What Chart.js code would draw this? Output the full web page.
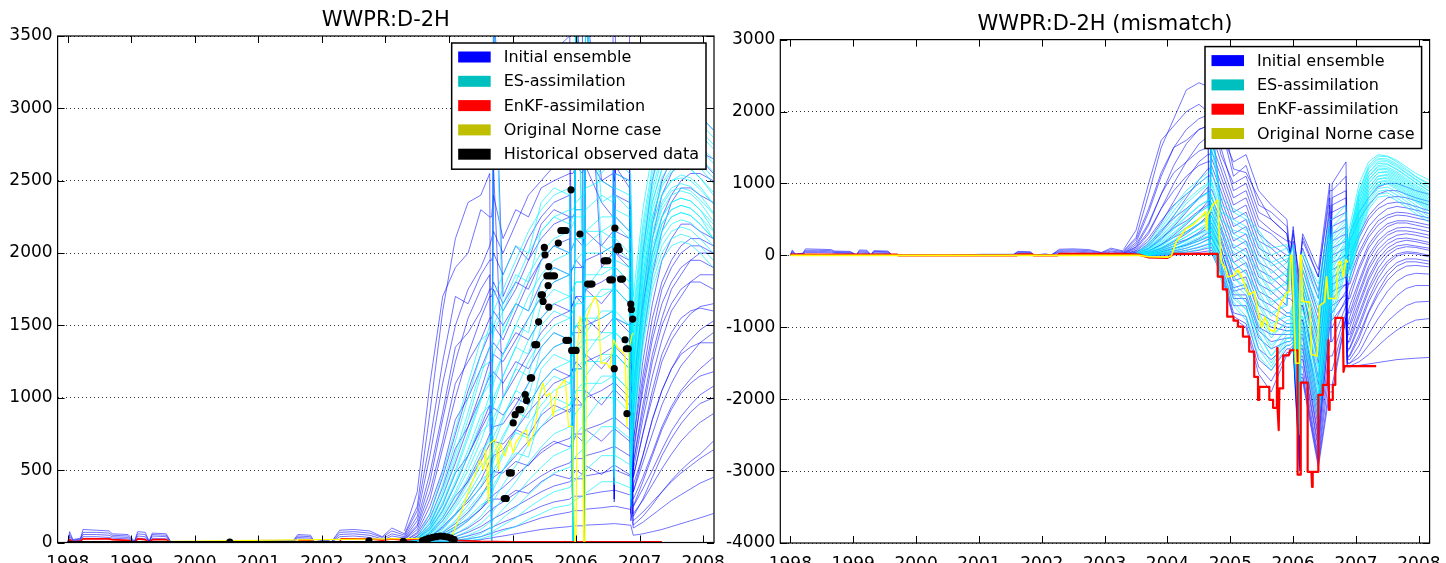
<!DOCTYPE html>
<html lang="en">
<head>
<meta charset="UTF-8">
<title>WWPR:D-2H</title>
<script src="https://cdn.jsdelivr.net/npm/chart.js@4"></script>
<style>
  body { margin: 0; background: #fff; width: 1446px; height: 563px; overflow: hidden; position: relative; }
  .panel { position: absolute; top: 0; height: 563px; }
  #left { left: 0; width: 740px; }
  #right { left: 720px; width: 726px; }
</style>
</head>
<body>
<div class="panel" id="left"><canvas id="rateChart"></canvas></div>
<div class="panel" id="right"><canvas id="misChart"></canvas></div>
<script>
// ---- time axes (decimal years) ----
const earlyYears = [1998.00, 1998.03, 1998.08, 1998.20, 1998.24, 1998.45, 1998.65, 1998.70, 1998.95, 1999.05,
                    1999.10, 1999.22, 1999.28, 1999.33, 1999.55, 1999.62, 2000.50, 2001.05, 2001.55, 2001.62,
                    2001.82, 2001.88, 2002.06, 2002.15, 2002.28, 2002.50, 2002.75, 2002.95, 2003.10, 2003.30];

const ensYears = [2003.30, 2003.50, 2003.70, 2003.90, 2004.10, 2004.30, 2004.50, 2004.64, 2004.67, 2004.70,
                  2004.85, 2005.05, 2005.25, 2005.45, 2005.65, 2005.90, 2005.95, 2006.00, 2006.10, 2006.12,
                  2006.15, 2006.40, 2006.58, 2006.60, 2006.62, 2006.84, 2006.86, 2006.90, 2007.05, 2007.20,
                  2007.35, 2007.50, 2007.65, 2007.80, 2007.95, 2008.16];

// ---- early period, initial ensemble (same rate and mismatch, observed = 0) ----
const earlyInitial = [
  [0, 75, 20, 30, 90, 85, 80, 60, 55, 10, 75, 70, 10, 65, 60, 5, 0, 15, 15, 55, 50, 5, 20, 5, 85, 90, 80, 40, 100, 60],
  [0, 55, 15, 25, 70, 70, 65, 50, 45, 5, 60, 55, 5, 55, 50, 5, 0, 10, 10, 45, 40, 5, 15, 5, 70, 75, 65, 35, 80, 50],
  [0, 40, 10, 20, 55, 55, 50, 40, 35, 5, 45, 40, 5, 45, 40, 0, 0, 8, 8, 35, 30, 0, 10, 0, 55, 60, 50, 25, 60, 40],
  [0, 25, 5, 15, 40, 40, 35, 30, 25, 0, 30, 25, 0, 30, 25, 0, 0, 5, 5, 25, 20, 0, 5, 0, 40, 45, 35, 15, 45, 30]
];

// ---- WWPR, initial ensemble ----
const initRate = [
  [60,250,900,1600,2100,2350,2400,2550,0,3700, 2700,2900,3100,3300,3400,3500,0,3700,3600,0, 3700,3650,3600,1500,3600,3500,900,1200,2000,2500, 2800,2950,3000,3000,2950,2850],
  [40,180,600,1100,1500,1750,1900,2050,2100,2150, 2000,2200,2400,2500,2600,2650,0,3700,3000,0, 3700,2900,2800,400,2700,2600,300,900,1600,2100, 2400,2550,2650,2700,2700,2650],
  [30,120,420,850,1250,1550,1750,1850,0,3700, 1700,1900,2100,2250,2350,2400,0,3700,2900,2850, 2800,2700,2600,2600,2550,2500,500,800,1400,1850, 2150,2350,2450,2450,2400,2350],
  [20,90,300,650,1000,1300,1550,1700,1700,1750, 1600,1750,1950,2100,2200,2250,2250,2300,2300,0, 3700,2500,2450,300,2400,2350,2300,700,1250,1650, 1950,2100,2200,2200,2150,2100],
  [10,60,200,450,750,1050,1300,1450,1450,1500, 1400,1600,1800,1950,2050,2100,0,3700,2600,2600, 2600,2350,2250,2250,2250,2150,250,600,1100,1450, 1750,1900,2000,2050,2050,2000],
  [5,40,130,320,550,800,1050,1250,1250,1300, 1250,1400,1550,1700,1800,1850,1900,1900,1900,1900, 1950,2000,2050,1800,2000,1950,400,550,950,1300, 1550,1750,1850,1950,2000,2000],
  [0,30,90,220,400,600,800,950,0,2600, 1000,1150,1300,1450,1550,1600,1650,1700,1700,1700, 1750,1800,1850,1850,1850,1750,1750,500,850,1150, 1400,1600,1700,1800,1850,1850],
  [0,20,60,150,280,430,600,750,750,800, 820,950,1100,1250,1350,1400,1450,1450,1450,1450, 1500,1550,1600,300,1550,1500,1500,450,750,1000, 1250,1400,1500,1580,1630,1650],
  [0,10,40,100,190,300,430,560,560,600, 640,780,900,1000,1100,1150,1200,1200,1200,1200, 1250,1300,1350,1350,1350,1250,200,400,600,850, 1050,1200,1320,1400,1470,1530],
  [0,5,25,70,130,210,320,420,420,450, 500,600,700,800,870,920,950,950,950,950, 1000,1050,1100,1100,1100,1000,1000,350,550,750, 950,1100,1220,1300,1380,1450],
  [0,0,15,45,90,150,230,310,310,330, 380,460,540,620,680,720,750,750,750,750, 780,820,860,860,860,780,780,300,450,620, 800,940,1050,1130,1200,1280],
  [0,0,10,30,60,100,160,220,220,240, 280,340,400,460,510,550,580,580,580,580, 600,630,660,660,660,600,600,250,370,500, 640,770,870,950,1020,1080],
  [0,0,5,20,40,70,110,150,150,165, 200,250,300,350,390,420,440,440,440,440, 460,480,500,500,500,460,460,200,290,400, 510,610,700,770,830,890],
  [0,0,0,10,25,45,70,100,100,110, 140,175,210,250,280,300,320,320,320,320, 330,350,360,360,360,330,330,150,210,280, 350,420,480,530,580,640],
  [0,0,0,5,15,25,40,60,60,70, 90,110,140,170,190,210,220,220,220,220, 230,240,250,250,250,230,230,100,140,190, 240,290,330,370,410,450],
  [0,0,0,0,5,10,20,30,30,35, 45,60,75,90,100,110,115,115,115,115, 120,125,130,130,130,120,120,50,60,75, 90,110,130,150,170,200],
  [80,350,1100,1700,1900,2000,2300,2250,2250,2400, 2100,2300,2250,2450,2500,2550,2550,2600,2550,2600, 2650,2600,2700,2650,2700,2650,600,1000,1700,2200, 2500,2650,2700,2700,2650,2550],
  [50,220,700,1250,1700,1650,1850,1950,1950,2000, 1850,2050,1950,2200,2300,2250,0,3700,2700,2650, 2700,2500,2550,2500,2600,2450,800,1100,1650,2000, 2250,2400,2500,2550,2550,2500],
  [30,150,480,900,1350,1450,1600,1750,1750,1800, 1650,1800,1750,1950,2050,2000,2050,2100,2050,2100, 2150,2050,2150,350,2150,2100,400,700,1150,1550, 1800,1950,2050,2100,2100,2050],
  [20,110,350,700,1100,1250,1400,1550,1550,1600, 1500,1650,1600,1800,1900,1850,1900,1950,1900,0, 3700,1900,2000,1950,2000,1900,350,650,1050,1400, 1650,1800,1900,1950,1950,1900],
  [10,70,250,500,850,1000,1200,1350,1350,1380, 1300,1450,1400,1550,1650,1600,1650,1700,1650,1700, 1750,1650,1750,1750,1750,1650,300,550,900,1250, 1500,1650,1750,1800,1800,1750],
  [5,45,170,380,650,800,1000,1150,1150,1180, 1100,1250,1200,1350,1450,1400,1450,1500,1450,1500, 1550,1450,1550,1550,1550,1450,1450,450,750,1050, 1300,1450,1550,1600,1620,1600],
  [0,25,110,260,480,600,780,900,900,930, 880,1000,950,1100,1200,1150,1200,1250,1200,1250, 1300,1200,1300,280,1300,1200,1200,350,600,850, 1050,1200,1300,1350,1380,1380],
  [0,15,70,170,320,420,560,680,680,700, 680,780,740,880,950,900,950,1000,950,1000, 1050,950,1050,1050,1050,950,150,250,420,600, 780,920,1030,1100,1150,1180],
  [0,10,40,110,200,280,380,470,470,490, 480,560,530,640,700,660,700,740,700,740, 780,700,780,780,780,700,700,180,300,450, 600,720,820,900,960,1000],
  [0,0,20,60,110,160,230,290,290,300, 300,360,340,420,470,440,470,500,470,500, 530,470,530,530,530,470,470,120,180,260, 350,430,500,560,610,700]
];

// ---- WWPR, ES-assimilation ----
const esRate = [
  [0,20,150,400,700,1000,1300,1500,1500,1600, 1750,1950,2150,2300,2400,2450,0,3700,2600,0, 3700,2600,2600,800,2550,2500,600,1600,2200,2600, 2850,2950,3000,2980,2900,2800],
  [0,15,110,320,580,850,1150,1350,1350,1450, 1600,1800,2000,2150,2250,2300,2300,2350,2400,2400, 2450,2500,2450,2450,2450,2400,2400,1500,2100,2500, 2750,2880,2920,2900,2850,2750],
  [0,10,90,260,480,720,980,1180,0,3700, 1450,1650,1850,2000,2100,2150,2200,2250,2250,2250, 2300,2400,2350,700,2300,2250,2250,1400,2000,2400, 2650,2780,2820,2800,2740,2650],
  [0,5,70,210,400,600,830,1020,1020,1100, 1300,1500,1700,1850,1950,2000,0,3700,2100,2100, 2150,2250,2250,2250,2250,2150,400,1350,1950,2350, 2580,2700,2740,2720,2660,2560],
  [0,5,55,170,330,500,700,870,870,950, 1150,1350,1550,1700,1800,1850,1900,1950,2000,2000, 2050,2150,2100,2100,2100,2000,2000,1300,1900,2300, 2520,2630,2670,2650,2590,2480],
  [0,0,40,130,260,410,580,730,730,800, 1000,1200,1400,1550,1650,1700,1750,1800,1800,0, 3700,2050,2000,500,1950,1900,1900,1250,1850,2250, 2460,2560,2600,2580,2520,2400],
  [0,0,30,100,200,330,480,610,610,670, 850,1050,1250,1400,1500,1550,1600,1650,1700,1700, 1750,1900,1900,1900,1900,1800,300,1200,1800,2200, 2400,2500,2540,2520,2460,2340],
  [0,0,20,75,150,260,390,500,500,560, 720,900,1100,1250,1350,1400,1450,1500,1550,1550, 1600,1750,1750,1750,1750,1650,1650,1150,1750,2150, 2350,2450,2480,2460,2400,2280],
  [0,0,15,55,110,200,310,410,410,460, 600,770,950,1100,1200,1250,1300,1350,1400,1400, 1450,1600,1600,400,1550,1500,1500,1100,1700,2100, 2300,2400,2430,2410,2350,2220],
  [0,0,10,40,80,150,240,330,330,370, 500,650,820,950,1050,1100,1150,1200,1250,1250, 1300,1450,1450,1450,1450,1350,1350,1050,1650,2050, 2250,2350,2380,2360,2300,2160],
  [0,0,5,30,60,110,180,260,260,290, 400,530,680,800,900,950,1000,1050,1100,1100, 1150,1300,1300,1300,1300,1200,1200,1000,1600,2000, 2200,2300,2330,2310,2250,2100],
  [0,0,0,20,40,80,130,190,190,220, 310,420,550,660,750,800,850,900,950,950, 1000,1150,1150,1150,1150,1050,1050,950,1550,1950, 2150,2250,2280,2260,2200,2100],
  [0,0,0,10,25,50,90,140,140,160, 230,320,430,520,600,650,700,750,800,800, 850,1000,1000,1000,1000,900,900,900,1500,1900, 2100,2200,2230,2210,2150,2050],
  [0,0,0,5,15,30,60,100,100,110, 170,240,330,410,480,520,560,600,640,640, 680,800,800,800,800,720,720,850,1450,1850, 2050,2150,2180,2160,2100,2000],
  [0,0,0,0,10,20,40,70,70,80, 120,170,240,300,350,380,410,440,470,470, 500,600,600,600,600,540,540,800,1400,1800, 2000,2100,2130,2110,2050,1950],
  [0,0,0,0,5,10,25,45,45,50, 80,110,160,200,240,260,280,300,320,320, 340,420,420,420,420,380,380,750,1350,1750, 1950,2050,2080,2060,2000,1900],
  [0,30,200,480,780,1100,1400,1450,1450,1700, 1850,2050,2000,2350,2450,2400,0,3700,2650,2600, 2650,2550,2650,2600,2650,2550,2550,1700,2300,2700, 2900,3000,3050,3000,2950,2850],
  [0,20,130,350,620,900,1200,1250,1250,1500, 1650,1850,1800,2150,2250,2200,2250,2300,2300,0, 3700,2350,2400,2350,2400,2300,2300,1550,2150,2550, 2780,2880,2900,2880,2820,2720],
  [0,10,100,280,500,750,1000,1100,1100,1300, 1450,1650,1600,1950,2050,2000,2050,2100,2100,2100, 2150,2150,2200,600,2200,2100,2100,1450,2050,2450, 2680,2780,2800,2780,2720,2620],
  [0,5,80,230,420,640,880,950,950,1150, 1300,1500,1450,1800,1900,1850,0,3700,1950,1950, 2000,2000,2050,2050,2050,1950,300,1350,1950,2350, 2580,2680,2700,2680,2620,2520],
  [0,5,60,190,350,540,760,820,820,1000, 1150,1350,1300,1650,1750,1700,1750,1800,1800,1800, 1850,1850,1900,1900,1900,1800,1800,1250,1850,2250, 2480,2580,2600,2580,2520,2420],
  [0,0,45,150,290,450,640,700,700,860, 1000,1200,1150,1500,1600,1550,1600,1650,1650,1650, 1700,1700,1750,450,1750,1650,1650,1200,1800,2200, 2400,2500,2520,2500,2440,2340],
  [0,0,35,120,240,370,530,590,590,730, 870,1050,1000,1350,1450,1400,1450,1500,1500,1500, 1550,1550,1600,1600,1600,1500,1500,1100,1700,2100, 2330,2430,2450,2430,2370,2270],
  [0,0,25,90,190,300,430,480,480,610, 740,900,860,1200,1300,1250,1300,1350,1350,1350, 1400,1400,1450,1450,1450,1350,250,1000,1600,2000, 2250,2350,2380,2360,2300,2200],
  [0,0,15,65,140,230,340,380,380,500, 620,760,720,1050,1150,1100,1150,1200,1200,1200, 1250,1250,1300,1300,1300,1200,1200,950,1550,1950, 2200,2300,2330,2310,2250,2150],
  [0,0,10,45,100,170,260,290,290,400, 500,620,590,900,1000,950,1000,1050,1050,1050, 1100,1100,1150,1150,1150,1050,1050,900,1500,1900, 2150,2250,2280,2260,2200,2100]
];

// ---- WWPR, EnKF-assimilation [year, rate] ----
const enkfRate = [[1998.00,0],[1998.03,20],[1998.08,5],[1998.20,10],[1998.24,25],[1998.65,25],[1998.70,20],[1998.95,15],
  [1999.05,0],[1999.10,25],[1999.22,20],[1999.28,0],[1999.33,20],[1999.55,20],[1999.62,0],[2001.62,0],[2001.64,15],
  [2001.82,15],[2001.88,0],[2002.28,0],[2002.30,25],[2002.75,25],[2002.95,15],[2003.10,25],[2003.30,15],[2003.60,30],
  [2003.90,40],[2004.10,15],[2004.50,8],[2005.00,5],[2006.00,5],[2007.35,5]];

// ---- WWPR, original Norne case [year, rate] ----
const origRate = [[1998.00,0],[2004.04,30],[2004.28,320],[2004.36,413],[2004.44,504],[2004.49,573],[2004.54,504],
  [2004.58,642],[2004.62,274],[2004.65,688],[2004.73,711],[2004.78,504],[2004.80,688],[2004.88,596],[2004.96,711],
  [2005.01,619],[2005.05,688],[2005.15,757],[2005.22,780],[2005.25,665],[2005.33,757],[2005.38,872],[2005.43,1033],
  [2005.48,1102],[2005.53,1010],[2005.59,1033],[2005.64,872],[2005.70,1056],[2005.78,1102],[2005.83,1125],
  [2005.88,803],[2005.94,803],[2005.98,0],[2006.00,0],[2006.02,1332],[2006.06,1562],[2006.09,1516],[2006.12,0],
  [2006.14,0],[2006.17,1562],[2006.25,1655],[2006.30,1700],[2006.35,1631],[2006.39,1240],[2006.48,1240],
  [2006.53,1205],[2006.59,1401],[2006.64,1355],[2006.72,1320],[2006.77,1297],[2006.80,803],[2006.83,1332],
  [2006.88,1436],[2006.90,1447]];

// ---- historical observed WWPR [year, rate] ----
const obsRate = [[2000.55,3],[2002.74,12],[2003.28,8],[2003.58,12],[2003.63,20],[2003.68,28],[2003.74,35],[2003.80,40],
  [2003.86,45],[2003.92,42],[2003.98,38],[2004.03,30],[2004.08,20],
  [2004.87,304],[2004.90,304],[2004.95,481],[2004.98,481],[2005.01,826],[2005.04,883],[2005.10,918],[2005.13,918],
  [2005.20,1022],[2005.22,982],[2005.28,1137],[2005.30,1137],[2005.35,1367],[2005.38,1367],[2005.41,1525],
  [2005.45,1712],[2005.47,1712],[2005.48,1666],[2005.50,2039],[2005.51,1988],[2005.54,1843],[2005.58,1843],
  [2005.62,1843],[2005.66,1843],[2005.56,1776],[2005.57,1627],[2005.57,1907],[2005.72,2069],[2005.76,2156],
  [2005.80,2156],[2005.84,2156],[2005.84,1397],[2005.88,1397],[2005.92,2437],[2005.93,1327],[2005.97,1327],
  [2006.00,1327],[2006.06,2131],[2006.18,1786],[2006.22,1786],[2006.25,1786],[2006.44,1947],[2006.47,1947],
  [2006.50,1947],[2006.53,1815],[2006.57,1815],[2006.60,1201],[2006.61,2172],[2006.64,2023],[2006.66,2046],
  [2006.68,2023],[2006.70,1820],[2006.73,1820],[2006.77,1401],[2006.79,1339],[2006.82,1339],[2006.80,890],
  [2006.86,1648],[2006.87,1610],[2006.89,1544]];
// observed zero rate through the early years
const obsZero = [[1998.00,0],[2003.50,0]];

// ---- mismatch, initial ensemble ----
const initMis = [
  [60,250,850,1500,1900,2300,2400,2350,0,2200, 2000,1200,1150,800,500,300, 0,400,-500,0, 300,-200,1000,0,1000,1300, 0,300,600,800, 950,1000,1000,950,900,850],
  [40,180,600,1100,1500,1750,1900,1950,1950,2000, 1700,1300,1400,900,700,500, 0,300,-300,0, 200,-300,800,200,800,900, 0,0,300,550, 700,800,820,800,760,700],
  [30,120,420,850,1250,1550,1750,1800,0,2000, 1400,1000,1100,600,500,300, 0,200,-600,0, 100,-500,600,600,600,700, 0,-200,150,400, 550,650,680,660,630,580],
  [20,90,300,650,1000,1300,1550,1650,1650,1700, 1300,800,900,400,300,100, 0,0,-900,0, -100,-800,400,-300,400,500, -400,-400,0,250, 420,520,560,550,520,480],
  [10,60,200,450,750,1050,1300,1400,1400,1450, 1100,600,700,200,100,-100, 0,-200,-1200,0, -300,-1100,200,200,200,300, -600,-600,-200,100, 280,400,450,450,420,380],
  [5,40,130,320,550,800,1050,1200,1200,1250, 900,400,500,0,-100,-300, 0,-400,-1500,0, -500,-1400,0,-400,0,100, -800,-800,-400,-50, 150,280,340,340,320,280],
  [0,30,90,220,400,600,800,950,0,1900, 700,200,300,-200,-300,-500, 0,-600,-1800,-700, -700,-1700,-200,-200,-200,-100, -950,-950,-550,-200, 20,160,230,240,220,180],
  [0,20,60,150,280,430,600,750,750,800, 500,0,100,-400,-500,-700, 0,-800,-2100,-900, -900,-2000,-400,-1200,-400,-300, -1100,-1100,-700,-350, -100,50,130,150,130,100],
  [0,10,40,100,190,300,430,560,560,600, 350,-200,-100,-600,-700,-850, -850,-900,-2300,-1000, -1000,-2200,-600,-600,-600,-400, -1200,-1200,-850,-500, -250,-80,20,50,40,0],
  [0,5,25,70,130,210,320,420,420,450, 200,-350,-300,-800,-900,-1000, -1000,-1000,-2500,-1150, -1150,-2400,-800,-800,-800,-500, -1300,-1300,-1000,-650, -400,-220,-100,-50,-50,-80],
  [0,0,15,45,90,150,230,310,310,330, 100,-500,-450,-1000,-1100,-1100, -1100,-1100,-2650,-1300, -1300,-2550,-1000,-1000,-1000,-600, -1400,-1400,-1150,-800, -550,-350,-220,-150,-140,-160],
  [0,0,10,30,60,100,160,220,220,240, 0,-600,-600,-1150,-1300,-1200, -1200,-1150,-2750,-1450, -1450,-2700,-1200,-1200,-1200,-700, -1450,-1450,-1250,-950, -700,-500,-360,-280,-250,-260],
  [0,0,5,20,40,70,110,150,150,165, -100,-700,-700,-1300,-1450,-1250, -1250,-1200,-2850,-1550, -1550,-2800,-1400,-1400,-1400,-800, -1500,-1500,-1350,-1100, -880,-700,-560,-460,-420,-420],
  [0,0,0,10,25,45,70,100,100,110, -150,-800,-850,-1450,-1600,-1300, -1300,-1250,-2900,-1650, -1650,-2850,-1600,-1600,-1600,-850, -1500,-1500,-1420,-1250, -1080,-920,-800,-700,-650,-640],
  [0,0,0,5,15,25,40,60,60,70, -200,-850,-950,-1550,-1750,-1350, -1350,-1280,-2950,-1700, -1700,-2900,-1800,-1800,-1800,-870, -1540,-1540,-1480,-1380, -1260,-1140,-1040,-960,-900,-880],
  [0,0,0,0,5,10,20,30,30,35, -250,-880,-1000,-1650,-1900,-1380, -1380,-1300,-3000,-1750, -1750,-2950,-1900,-1900,-1900,-870, -1550,-1550,-1530,-1510, -1490,-1470,-1450,-1440,-1430,-1420],
  [80,350,1000,1600,1800,2000,2100,2000,2000,2150, 1800,1100,1250,700,600,400, 0,350,-400,0, 250,-300,900,900,900,1100, -200,200,500,700, 850,900,900,850,800,750],
  [50,220,650,1150,1500,1600,1750,1800,1800,1850, 1500,900,1000,500,350,200, 200,100,-700,0, 0,-600,700,-100,700,800, -300,-100,250,500, 650,720,740,720,680,620],
  [30,150,450,850,1150,1300,1450,1500,1500,1550, 1200,700,800,300,150,0, 0,-100,-1000,-200, -200,-900,500,500,500,600, -500,-300,50,300, 480,560,600,590,560,520],
  [20,110,330,650,900,1100,1250,1300,1300,1350, 1000,500,600,100,0,-200, -200,-300,-1300,0, -400,-1200,300,-600,300,400, -700,-500,-150,150, 330,440,480,480,460,420],
  [10,70,240,480,700,850,1000,1100,1100,1150, 800,300,400,-100,-200,-400, 0,-500,-1600,-500, -500,-1500,100,100,100,200, -850,-700,-350,0, 200,320,380,390,370,330],
  [5,45,160,350,520,650,800,880,880,920, 600,100,200,-300,-400,-600, -600,-650,-1900,-700, -700,-1800,-100,-100,-100,0, -1000,-850,-500,-150, 80,210,280,300,280,240],
  [0,25,100,240,380,480,620,700,700,730, 400,-100,0,-500,-600,-800, -800,-850,-2200,-900, -900,-2100,-300,-900,-300,-200, -1150,-1000,-650,-300, -50,100,180,210,190,150],
  [0,15,60,150,250,330,440,520,520,540, 250,-300,-200,-700,-800,-950, -950,-950,-2400,-1100, -1100,-2300,-500,-500,-500,-400, -1250,-1150,-800,-450, -180,0,90,120,110,70],
  [0,10,35,90,160,220,300,370,370,390, 100,-450,-400,-900,-1000,-1050, -1050,-1050,-2600,-1250, -1250,-2500,-700,-700,-700,-550, -1350,-1280,-950,-600, -320,-120,-10,30,20,-20],
  [0,0,20,50,100,140,200,250,250,265, 0,-550,-550,-1050,-1200,-1150, -1150,-1150,-2700,-1400, -1400,-2650,-900,-900,-900,-650, -1450,-1380,-1100,-780, -500,-280,-150,-90,-90,-120]
];

// ---- mismatch, ES-assimilation ----
const esMis = [
  [0,20,150,380,620,850,1000,1100,0,1900, 700,600,500,300,0,100, 0,100,-800,0, 0,-500,400,0,400,600, 0,300,900,1250, 1380,1370,1300,1200,1100,1000],
  [0,15,110,300,500,720,880,980,980,1050, 600,500,400,200,-100,0, 0,0,-900,0, -100,-600,300,-300,300,500, 0,250,850,1200, 1330,1320,1250,1150,1060,950],
  [0,10,90,250,420,620,780,870,0,1800, 500,350,300,50,-250,-100, 0,-100,-1100,0, -200,-800,200,200,200,400, 200,200,800,1150, 1280,1270,1200,1110,1020,900],
  [0,5,70,200,360,530,680,770,770,820, 400,250,150,-100,-400,-200, 0,-250,-1300,-300, -300,-1000,100,-500,100,300, 150,150,750,1100, 1230,1230,1160,1070,980,860],
  [0,5,55,160,300,450,590,680,680,720, 300,100,0,-250,-550,-350, 0,-350,-1450,-400, -400,-1150,0,0,0,250, 100,100,700,1050, 1190,1190,1120,1030,940,820],
  [0,0,40,130,250,380,510,600,600,640, 200,0,-150,-400,-700,-500, -500,-450,-1600,-500, -500,-1300,-100,-600,-100,200, 50,50,650,1000, 1150,1150,1080,990,900,780],
  [0,0,30,100,200,320,440,520,520,560, 100,-100,-250,-550,-850,-650, 0,-550,-1750,-650, -650,-1450,-200,-200,-200,150, 0,0,600,950, 1100,1110,1040,950,860,740],
  [0,0,20,75,160,260,370,450,450,490, 0,-200,-350,-700,-1000,-800, -800,-650,-1900,-750, -750,-1600,-300,-300,-300,100, -50,-50,550,900, 1060,1070,1000,910,820,700],
  [0,0,15,55,120,210,310,380,380,420, -100,-300,-450,-850,-1150,-900, -900,-750,-2000,-850, -850,-1750,-400,-900,-400,50, -100,-100,500,850, 1010,1030,960,870,780,660],
  [0,0,10,40,90,170,250,320,320,360, -150,-400,-550,-1000,-1300,-1000, -1000,-850,-2150,-950, -950,-1900,-500,-500,-500,0, -150,-150,450,800, 970,990,920,830,740,620],
  [0,0,5,30,70,130,200,260,260,300, -200,-500,-650,-1100,-1400,-1100, -1100,-950,-2250,-1050, -1050,-2000,-600,-600,-600,-50, -200,-200,400,760, 930,950,880,790,700,580],
  [0,0,0,20,50,100,160,210,210,240, -250,-600,-750,-1200,-1500,-1150, -1150,-1050,-2350,-1150, -1150,-2100,-700,-700,-700,-100, -250,-250,350,720, 890,910,840,750,660,540],
  [0,0,0,10,30,70,120,160,160,190, -300,-650,-850,-1300,-1550,-1200, -1200,-1150,-2450,-1250, -1250,-2200,-800,-800,-800,-150, -300,-300,300,680, 850,870,800,710,620,500],
  [0,0,0,5,20,45,80,120,120,140, -350,-700,-900,-1400,-1600,-1250, -1250,-1200,-2500,-1350, -1350,-2300,-900,-900,-900,-200, -350,-350,250,640, 810,830,760,670,580,460],
  [0,30,180,420,680,900,1050,1150,1150,1500, 800,650,550,350,100,150, 0,150,-700,0, 50,-400,500,500,500,700, 300,400,1000,1300, 1400,1380,1320,1230,1140,1050],
  [0,20,130,340,560,760,920,1000,1000,1200, 650,450,350,150,-150,-50, 0,-50,-1000,-200, -200,-700,250,-400,250,450, 150,300,900,1220, 1350,1340,1270,1180,1090,980],
  [0,15,100,270,450,640,800,870,870,1000, 500,300,200,-50,-350,-250, -250,-300,-1200,-350, -350,-950,150,150,150,350, 100,200,820,1150, 1300,1300,1230,1140,1050,930],
  [0,10,80,220,380,540,690,760,760,850, 350,150,50,-200,-500,-400, 0,-400,-1400,-450, -450,-1100,50,-700,50,250, 50,100,750,1100, 1250,1260,1190,1100,1010,890],
  [0,5,60,180,320,460,600,670,670,740, 250,50,-100,-350,-650,-550, -550,-500,-1550,-550, -550,-1250,-50,-50,-50,150, 0,50,680,1050, 1200,1210,1140,1050,960,840],
  [0,0,45,140,260,390,510,580,580,640, 150,-100,-250,-500,-800,-700, 0,-600,-1700,-650, -650,-1400,-150,-150,-150,100, -50,0,620,1000, 1150,1170,1100,1010,920,800],
  [0,0,35,110,210,320,430,490,490,540, 50,-200,-400,-650,-950,-850, -850,-700,-1850,-750, -750,-1550,-250,-800,-250,50, -100,-50,560,950, 1100,1130,1060,970,880,760],
  [0,0,25,85,170,260,360,410,410,460, -50,-300,-500,-800,-1100,-950, -950,-800,-2000,-850, -850,-1700,-350,-350,-350,0, -150,-100,500,900, 1060,1090,1020,930,840,720],
  [0,0,15,60,130,200,290,340,340,380, -150,-450,-650,-950,-1250,-1050, -1050,-900,-2150,-950, -950,-1850,-450,-450,-450,-50, -200,-150,440,850, 1020,1050,980,890,800,680],
  [0,0,10,40,90,150,220,270,270,300, -250,-550,-750,-1100,-1400,-1150, -1150,-1000,-2300,-1050, -1050,-2000,-550,-550,-550,-100, -250,-200,380,800, 980,1010,940,850,760,640]
];

// ---- mismatch, EnKF-assimilation [year, mismatch] ----
const enkfMis = [[1998.00,10],[1999.70,10],[1999.72,0],[2001.60,0],[2001.62,15],[2001.85,15],[2001.87,0],[2002.25,0],
  [2002.27,20],[2003.30,20],[2003.55,10],[2003.70,-30],[2004.00,-35],[2004.06,-5],[2004.10,20],[2004.80,20],
  [2004.80,-297],[2004.88,-297],[2004.88,-472],[2004.95,-472],[2004.95,-853],[2005.05,-853],[2005.05,-908],
  [2005.12,-908],[2005.12,-990],[2005.20,-990],[2005.20,-1130],[2005.30,-1130],[2005.30,-1340],[2005.38,-1340],
  [2005.38,-1690],[2005.44,-1690],[2005.44,-2010],[2005.46,-2010],[2005.46,-1830],[2005.62,-1830],[2005.62,-2010],
  [2005.68,-2010],[2005.68,-2120],[2005.74,-2120],[2005.745,-1290],[2005.75,-2120],[2005.77,-2430],[2005.78,-1850],
  [2005.84,-1850],[2005.84,-1390],[2005.93,-1390],[2005.95,-1320],[2006.07,-1320],[2006.07,-3050],[2006.12,-3050],
  [2006.12,-1770],[2006.23,-1770],[2006.23,-3010],[2006.29,-3010],[2006.30,-3220],[2006.31,-3010],[2006.40,-3010],
  [2006.40,-1940],[2006.47,-1940],[2006.47,-1800],[2006.55,-1800],[2006.56,-1180],[2006.57,-2150],[2006.58,-2010],
  [2006.63,-2010],[2006.63,-1800],[2006.67,-1800],[2006.67,-870],[2006.79,-870],[2006.80,-1620],[2006.82,-1540],
  [2007.32,-1540]];

// ---- mismatch, original Norne case [year, mismatch] ----
const origMis = [[1998.00,0],[2003.55,0],[2003.70,-20],[2004.00,-25],[2004.06,-10],[2004.14,190],[2004.30,377],
  [2004.40,420],[2004.46,470],[2004.54,540],[2004.61,609],[2004.62,353],[2004.64,560],[2004.72,701],[2004.80,770],
  [2004.82,330],[2004.86,-100],[2004.92,-180],[2004.96,-300],[2005.05,-280],[2005.12,-200],[2005.18,-300],
  [2005.25,-450],[2005.30,-550],[2005.38,-500],[2005.45,-830],[2005.50,-1000],[2005.55,-860],[2005.62,-1030],
  [2005.70,-1060],[2005.78,-710],[2005.90,-520],[2005.94,-500],[2005.96,0],[2005.98,0],[2006.04,-1500],
  [2006.10,-1500],[2006.11,0],[2006.13,0],[2006.15,-640],[2006.26,-650],[2006.29,-1380],[2006.38,-1400],
  [2006.42,-700],[2006.50,-650],[2006.53,-300],[2006.56,-600],[2006.68,-600],[2006.72,-100],[2006.76,-90],
  [2006.80,-300],[2006.84,-60],[2006.87,-100]];

// ---- colours ----
const BLUE = 'rgba(0,0,255,0.55)';
const CYAN = 'rgba(0,240,255,0.65)';
const RED = '#ff0000';
const YELLOW = '#ffff00';

Chart.defaults.font.family = '"DejaVu Sans", sans-serif';
Chart.defaults.color = '#000';

function gridSets(years, rows, color, order) {
  return rows.map(row => ({
    data: years.map((t, i) => ({ x: t, y: row[i] })),
    borderColor: color, borderWidth: 1, pointRadius: 0,
    borderJoinStyle: 'round', order
  }));
}

function pairSet(pairs, color, width, order) {
  return {
    data: pairs.map(p => ({ x: p[0], y: p[1] })),
    borderColor: color, borderWidth: width, pointRadius: 0,
    borderJoinStyle: 'round', order
  };
}

// spines, inward tick marks and the boxed legend inside the axes
const frameAndLegend = {
  id: 'frameAndLegend',
  afterDatasetsDraw(chart, args, opts) {
    const { ctx, chartArea: a, scales } = chart;
    ctx.save();
    ctx.strokeStyle = '#000';
    ctx.lineWidth = 1.2;
    ctx.strokeRect(a.left, a.top, a.right - a.left, a.bottom - a.top);

    ctx.lineWidth = 1;
    ctx.beginPath();
    scales.x.ticks.forEach(t => {
      const px = Math.round(scales.x.getPixelForValue(t.value)) + 0.5;
      ctx.moveTo(px, a.bottom); ctx.lineTo(px, a.bottom - 7);
      ctx.moveTo(px, a.top); ctx.lineTo(px, a.top + 7);
    });
    scales.y.ticks.forEach(t => {
      const py = Math.round(scales.y.getPixelForValue(t.value)) + 0.5;
      ctx.moveTo(a.left, py); ctx.lineTo(a.left + 7, py);
      ctx.moveTo(a.right, py); ctx.lineTo(a.right - 7, py);
    });
    ctx.stroke();

    const items = opts.items;
    ctx.font = '16px "DejaVu Sans"';
    const textW = Math.max(...items.map(it => ctx.measureText(it.label).width));
    const w = 52 + textW + 7;
    const h = 29 + (items.length - 1) * 24.3;
    const bx = a.right - 8 - w, by = a.top + 7;
    ctx.fillStyle = '#fff';
    ctx.fillRect(bx, by, w, h);
    ctx.lineWidth = 1.5;
    ctx.strokeRect(bx, by, w, h);
    ctx.textBaseline = 'middle';
    items.forEach((it, i) => {
      const cy = by + 14 + i * 24.3;
      ctx.fillStyle = it.color;
      ctx.fillRect(bx + 6.5, cy - 5.5, 32.5, 11);
      ctx.fillStyle = '#000';
      ctx.fillText(it.label, bx + 52, cy + 1);
    });
    ctx.restore();
  }
};

function makeOptions(cfg) {
  return {
    responsive: true,
    maintainAspectRatio: false,
    devicePixelRatio: 1,
    animation: false,
    events: [],
    layout: { padding: { left: 0, right: cfg.padRight, top: 0, bottom: 0 } },
    plugins: {
      legend: { display: false },
      tooltip: { enabled: false },
      title: {
        display: true, text: cfg.title, fullSize: false, color: '#000',
        font: { size: 21, weight: 'normal' },
        padding: { top: cfg.titleTop, bottom: cfg.titleBottom }
      },
      frameAndLegend: { items: cfg.legend }
    },
    scales: {
      x: {
        type: 'linear', min: 1997.84, max: 2008.17,
        grid: { display: false },
        border: { display: false },
        ticks: {
          stepSize: 1, includeBounds: false, autoSkip: false, maxRotation: 0,
          padding: 3, font: { size: 17 }, callback: v => String(v)
        },
        afterFit: s => { s.height = cfg.xHeight; }
      },
      y: {
        min: cfg.yMin, max: cfg.yMax,
        grid: { color: 'rgba(0,0,0,0.8)', lineWidth: 1, drawTicks: false },
        border: { display: false, dash: [1, 3] },
        ticks: { stepSize: cfg.yStep, padding: 5, font: { size: 17 }, callback: v => String(v) },
        afterFit: s => { s.width = cfg.yWidth; }
      }
    }
  };
}

new Chart(document.getElementById('rateChart'), {
  type: 'scatter',
  data: {
    datasets: [
      ...gridSets(earlyYears, earlyInitial, BLUE, 5),
      ...gridSets(ensYears, initRate, BLUE, 5),
      ...gridSets(ensYears, esRate, CYAN, 4),
      pairSet(enkfRate, RED, 1.6, 3),
      pairSet(origRate, YELLOW, 1.2, 2),
      pairSet(obsZero, '#000', 3, 1),
      {
        data: obsRate.map(p => ({ x: p[0], y: p[1] })),
        showLine: false, pointRadius: 3.6, pointBackgroundColor: '#000',
        pointBorderColor: '#000', pointBorderWidth: 0, order: 1
      }
    ].map(d => Object.assign({ showLine: true }, d))
  },
  options: makeOptions({
    title: 'WWPR:D-2H', titleTop: 8, titleBottom: 2.8,
    yMin: 0, yMax: 3500, yStep: 500, yWidth: 57.6, xHeight: 20.5, padRight: 26,
    legend: [
      { label: 'Initial ensemble', color: '#0000ff' },
      { label: 'ES-assimilation', color: '#00bfbf' },
      { label: 'EnKF-assimilation', color: '#ff0000' },
      { label: 'Original Norne case', color: '#bfbf00' },
      { label: 'Historical observed data', color: '#000000' }
    ]
  }),
  plugins: [frameAndLegend]
});

new Chart(document.getElementById('misChart'), {
  type: 'scatter',
  data: {
    datasets: [
      ...gridSets(earlyYears, earlyInitial, BLUE, 5),
      ...gridSets(ensYears, initMis, BLUE, 5),
      ...gridSets(ensYears, esMis, CYAN, 4),
      pairSet(enkfMis, RED, 2.2, 3),
      pairSet(origMis, YELLOW, 1.6, 2)
    ].map(d => Object.assign({ showLine: true }, d))
  },
  options: makeOptions({
    title: 'WWPR:D-2H (mismatch)', titleTop: 12, titleBottom: 2.4,
    yMin: -4000, yMax: 3000, yStep: 1000, yWidth: 60.3, xHeight: 20, padRight: 16.4,
    legend: [
      { label: 'Initial ensemble', color: '#0000ff' },
      { label: 'ES-assimilation', color: '#00bfbf' },
      { label: 'EnKF-assimilation', color: '#ff0000' },
      { label: 'Original Norne case', color: '#bfbf00' }
    ]
  }),
  plugins: [frameAndLegend]
});
</script>
</body>
</html>
